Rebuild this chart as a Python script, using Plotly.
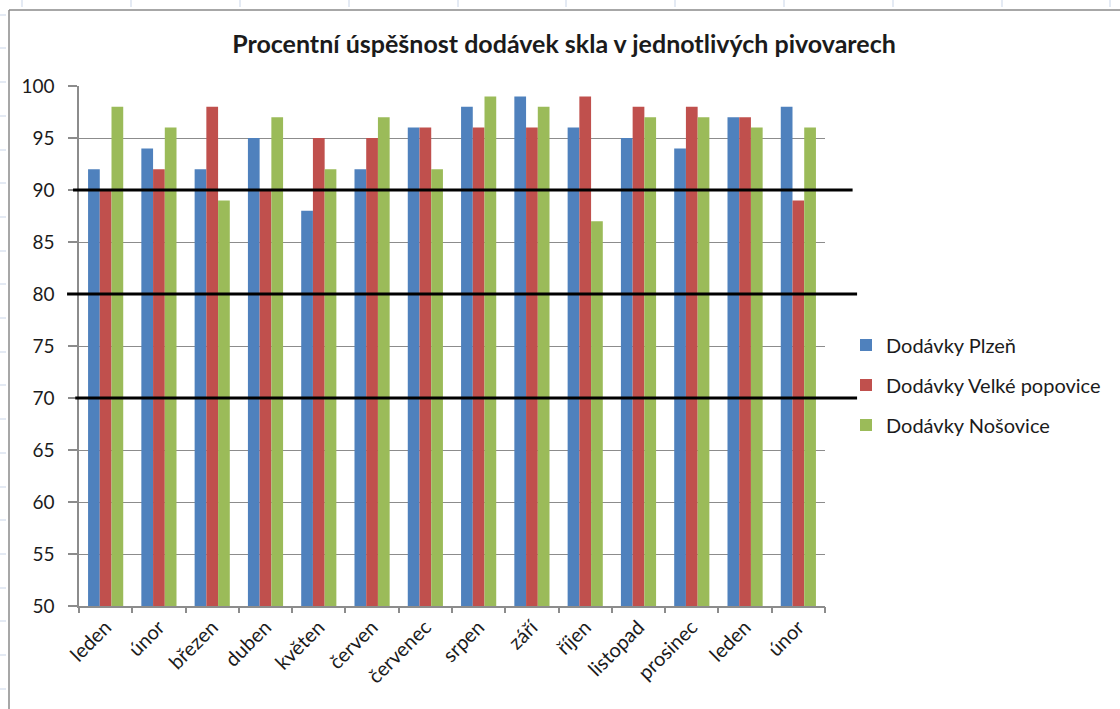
import plotly.graph_objects as go

# Months (the series runs across a year boundary, so names repeat)
months = ["leden", "únor", "březen", "duben", "květen", "červen", "červenec",
          "srpen", "září", "říjen", "listopad", "prosinec", "leden", "únor"]

plzen = [92, 94, 92, 95, 88, 92, 96, 98, 99, 96, 95, 94, 97, 98]
velke_popovice = [90, 92, 98, 90, 95, 95, 96, 96, 96, 99, 98, 98, 97, 89]
nosovice = [98, 96, 89, 97, 92, 97, 92, 99, 98, 87, 97, 97, 96, 96]

series_names = ["Dodávky Plzeň", "Dodávky Velké popovice", "Dodávky Nošovice"]
series_values = [plzen, velke_popovice, nosovice]
series_colors = ["#4F81BD", "#C0504D", "#9BBB59"]

# Reference levels marked across the chart
threshold_levels = [90, 80, 70]

y_ticks = [50, 55, 60, 65, 70, 75, 80, 85, 90, 95, 100]

FONT = "Lato"
TEXT = "#1b1b1b"
GRID = "#8c8c8c"

positions = list(range(len(months)))

fig = go.Figure()
for i, (name, vals, col) in enumerate(zip(series_names, series_values, series_colors)):
    fig.add_trace(go.Bar(
        x=positions, y=vals, name=name,
        marker=dict(color=col, line=dict(width=0)),
        legendgroup=f"g{i}",
    ))

# invisible trace so the secondary x axis (boundary tick marks) is drawn
fig.add_trace(go.Scatter(x=[-0.5, len(months) - 0.5], y=[50, 50], xaxis="x2",
                         mode="lines", line=dict(width=0), showlegend=False,
                         hoverinfo="skip"))

shapes = []
# hand-drawn black level lines extending past the plot area
line_extents = [(-0.008, 1.037), (-0.016, 1.043), (-0.005, 1.043)]
for lvl, (x0, x1) in zip(threshold_levels, line_extents):
    shapes.append(dict(type="line", xref="paper", yref="y", x0=x0, x1=x1,
                       y0=lvl, y1=lvl, line=dict(color="black", width=3),
                       layer="above"))

# chart frame (top and left edges)
PX_W, PX_H = 746.0, 520.0
def px(xp):
    return (xp - 79) / PX_W
def py(yp):
    return (606 - yp) / PX_H

shapes.append(dict(type="line", xref="paper", yref="paper", x0=px(9), x1=px(1125),
                   y0=py(10), y1=py(10), line=dict(color="#8a8a8a", width=1.5)))
shapes.append(dict(type="line", xref="paper", yref="paper", x0=px(9), x1=px(9),
                   y0=py(10), y1=py(715), line=dict(color="#8a8a8a", width=1.5)))

# sheet grid marks around the frame
for xp in [22, 131, 240, 349, 458, 566, 675, 784, 893, 1002, 1110]:
    shapes.append(dict(type="line", xref="paper", yref="paper", x0=px(xp), x1=px(xp),
                       y0=py(0), y1=py(7), line=dict(color="#c9d5e8", width=1)))
for yp in [15, 48, 82, 116, 150, 183, 217, 251, 284, 318, 352, 385, 419, 453,
           487, 520, 554, 588, 621, 655, 689]:
    shapes.append(dict(type="line", xref="paper", yref="paper", x0=px(0), x1=px(6),
                       y0=py(yp), y1=py(yp), line=dict(color="#c9d5e8", width=1)))

fig.update_layout(
    width=1120, height=709,
    margin=dict(l=79, r=295, t=86, b=103),
    paper_bgcolor="white", plot_bgcolor="white",
    barmode="group", bargap=0.34, bargroupgap=0,
    font=dict(family=FONT, color=TEXT, size=18),
    title=dict(text="<b>Procentní úspěšnost dodávek skla v jednotlivých pivovarech</b>",
               x=564 / 1120, xanchor="center", y=1 - 44 / 709, yanchor="middle",
               font=dict(family=FONT, size=25, color=TEXT)),
    xaxis=dict(
        range=[-0.5, len(months) - 0.5],
        tickvals=positions, ticktext=months, tickangle=-45,
        ticks="", showgrid=False, zeroline=False,
        showline=True, linecolor=GRID, linewidth=1.5,
        tickfont=dict(size=20, color=TEXT),
    ),
    xaxis2=dict(
        overlaying="x", matches="x", range=[-0.5, len(months) - 0.5],
        tickvals=[p - 0.5 for p in positions] + [len(months) - 0.5],
        ticks="outside", ticklen=6, tickcolor=GRID, tickwidth=1.5,
        showticklabels=False, showgrid=False, zeroline=False, showline=False,
        anchor="y", side="bottom",
    ),
    yaxis=dict(
        range=[50, 100], tickvals=y_ticks,
        ticks="outside", ticklen=9, tickcolor=GRID, tickwidth=1.5,
        showgrid=True, gridcolor=GRID, gridwidth=1.2,
        showline=True, linecolor=GRID, linewidth=1.5, zeroline=False,
        tickfont=dict(size=19, color=TEXT), ticklabelstandoff=10,
    ),
    legend=dict(
        x=px(846), xanchor="left", y=py(385), yanchor="middle",
        font=dict(size=20, color=TEXT), tracegroupgap=11,
        bgcolor="rgba(0,0,0,0)", itemsizing="constant",
    ),
    shapes=shapes,
    showlegend=True,
)

fig.write_html("out.html")
